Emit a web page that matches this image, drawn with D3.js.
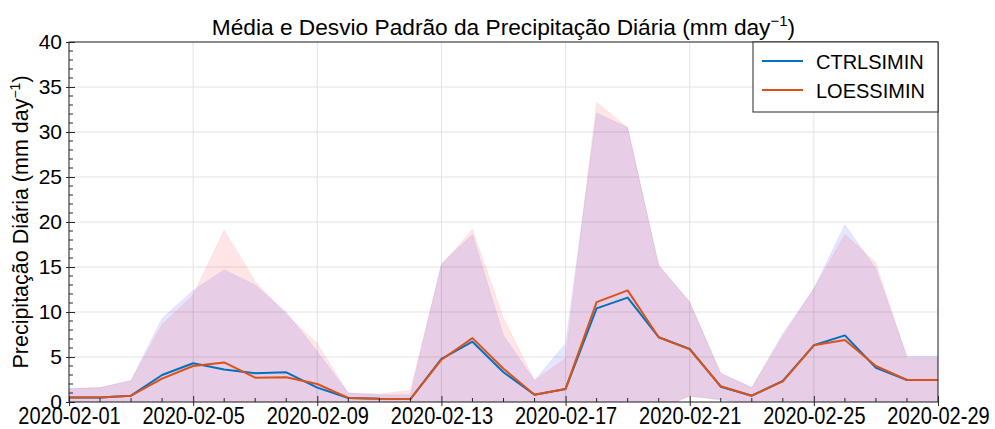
<!DOCTYPE html>
<html><head><meta charset="utf-8">
<script src="https://cdn.jsdelivr.net/npm/d3@7"></script>
<style>
body{margin:0;background:#fff;}
text{font-family:"Liberation Sans",Arial,Helvetica,sans-serif;fill:#000;}
</style></head>
<body><svg id="c" width="995" height="429"></svg>
<script>
const dates = ["2020-02-01","2020-02-02","2020-02-03","2020-02-04","2020-02-05","2020-02-06","2020-02-07","2020-02-08","2020-02-09","2020-02-10","2020-02-11","2020-02-12","2020-02-13","2020-02-14","2020-02-15","2020-02-16","2020-02-17","2020-02-18","2020-02-19","2020-02-20","2020-02-21","2020-02-22","2020-02-23","2020-02-24","2020-02-25","2020-02-26","2020-02-27","2020-02-28","2020-02-29"];
const ctrlMean = [0.5,0.5,0.7,3.0,4.3,3.6,3.2,3.3,1.6,0.45,0.35,0.33,4.8,6.7,3.3,0.8,1.45,10.4,11.6,7.2,5.9,1.7,0.7,2.35,6.3,7.4,3.8,2.45,2.45];
const ctrlStd  = [1.0,1.1,1.7,6.3,8.1,11.1,9.8,6.7,4.0,0.55,0.45,0.47,10.6,11.9,4.1,1.6,5.05,21.7,18.9,8.0,5.2,1.5,0.9,5.25,6.3,12.3,11.0,2.65,2.65];
const loessMean = [0.5,0.5,0.7,2.6,4.0,4.4,2.7,2.75,2.0,0.45,0.35,0.33,4.7,7.1,3.7,0.8,1.45,11.1,12.4,7.2,5.85,1.75,0.7,2.3,6.3,6.9,4.0,2.45,2.45];
const loessStd  = [1.0,1.1,1.7,6.0,7.9,14.7,10.7,6.95,4.5,0.55,0.55,0.97,10.5,12.1,5.6,1.6,3.4,22.2,18.1,8.0,5.25,1.45,0.9,5.0,6.3,11.7,11.5,2.4,2.4];
const seriesNames = ["CTRLSIMIN","LOESSIMIN"];
const lineColors = ["#0072BD","#D95319"];
const bandColors = ["#0000ff","#ff0000"];
const yTicks = [0,5,10,15,20,25,30,35,40];
const xTickLabels = ["2020-02-01","2020-02-05","2020-02-09","2020-02-13","2020-02-17","2020-02-21","2020-02-25","2020-02-29"];

const parse = d3.utcParse("%Y-%m-%d");
const fmt = d3.utcFormat("%Y-%m-%d");
const svg = d3.select("#c");
const L=69,R=938,T=42,B=402;
const x = d3.scaleUtc().domain([parse(dates[0]), parse(dates[dates.length-1])]).range([L,R]);
const y = d3.scaleLinear().domain([0,40]).range([B,T]);

svg.append("defs").append("clipPath").attr("id","clip").append("rect")
  .attr("x",L).attr("y",T).attr("width",R-L).attr("height",B-T);

// grid
const g = svg.append("g");
g.selectAll(".gy").data(yTicks).join("line").attr("x1",L).attr("x2",R)
  .attr("y1",d=>y(d)).attr("y2",d=>y(d)).attr("stroke","#e3e3e3").attr("stroke-width",1);
g.selectAll(".gx").data(xTickLabels).join("line").attr("y1",T).attr("y2",B)
  .attr("x1",d=>x(parse(d))).attr("x2",d=>x(parse(d))).attr("stroke","#e3e3e3").attr("stroke-width",1);

const data = [
  dates.map((d,i)=>({t:parse(d),m:ctrlMean[i],s:ctrlStd[i]})),
  dates.map((d,i)=>({t:parse(d),m:loessMean[i],s:loessStd[i]}))
];
const plot = svg.append("g").attr("clip-path","url(#clip)");
const area = d3.area().x(d=>x(d.t)).y0(d=>y(d.m-d.s)).y1(d=>y(d.m+d.s));
data.forEach((ser,k)=>{
  plot.append("path").datum(ser).attr("d",area)
    .attr("fill",bandColors[k]).attr("fill-opacity",0.1)
    .attr("stroke",bandColors[k]).attr("stroke-opacity",0.06).attr("stroke-width",1);
});
const line = d3.line().x(d=>x(d.t)).y(d=>y(d.m));
data.forEach((ser,k)=>{
  plot.append("path").datum(ser).attr("d",line).attr("fill","none")
    .attr("stroke",lineColors[k]).attr("stroke-width",2).attr("stroke-linejoin","round");
});

// axes box
svg.append("rect").attr("x",L).attr("y",T).attr("width",R-L).attr("height",B-T)
  .attr("fill","none").attr("stroke","#262626").attr("stroke-width",1);

// y axis
const ya = d3.axisLeft(y).tickValues(yTicks).tickSizeInner(-6).tickSizeOuter(0).tickPadding(7);
const yg = svg.append("g").attr("transform",`translate(${L},0)`).call(ya);
yg.select(".domain").remove();
yg.selectAll(".tick line").attr("stroke","#262626").attr("x1",-3);
yg.selectAll(".tick text").attr("font-size",21).attr("fill","#000").style("font-family","Liberation Sans, Arial, sans-serif");
const yMinor = d3.range(0,41,1).filter(v=>v%5!==0);
svg.append("g").selectAll("line").data(yMinor).join("line")
  .attr("x1",L).attr("x2",L+4).attr("y1",d=>y(d)).attr("y2",d=>y(d)).attr("stroke","#262626");

// x axis
const xa = d3.axisBottom(x).tickValues(xTickLabels.map(parse)).tickFormat(fmt).tickSizeInner(-6).tickSizeOuter(0);
const xg = svg.append("g").attr("transform",`translate(0,${B})`).call(xa);
xg.select(".domain").remove();
xg.selectAll(".tick line").attr("stroke","#262626").attr("y1",4);
xg.selectAll(".tick text").attr("font-size",20).attr("fill","#000")
  .attr("y",22/1.15).attr("dy",0).attr("transform","scale(1,1.15)")
  .style("font-family","Liberation Sans, Arial, sans-serif");
svg.append("g").selectAll("line").data(dates.filter(d=>!xTickLabels.includes(d)).map(parse)).join("line")
  .attr("x1",d=>x(d)).attr("x2",d=>x(d)).attr("y1",B).attr("y2",B-4).attr("stroke","#262626");

// title
const title = svg.append("text").attr("x",(L+R)/2).attr("y",35).attr("text-anchor","middle").attr("font-size",22.7);
title.append("tspan").text("Média e Desvio Padrão da Precipitação Diária (mm day");
title.append("tspan").text("−1").attr("font-size",15).attr("dy",-9);
title.append("tspan").text(")").attr("dy",9);

// y label
const yl = svg.append("text").attr("transform",`translate(28,${(T+B)/2}) rotate(-90)`).attr("text-anchor","middle").attr("font-size",21.5);
yl.append("tspan").text("Precipitação Diária (mm day");
yl.append("tspan").text("−1").attr("font-size",14).attr("dy",-8);
yl.append("tspan").text(")").attr("dy",8);

// legend
const lg = svg.append("g");
lg.append("rect").attr("x",753).attr("y",T).attr("width",R-753).attr("height",70)
  .attr("fill","#fff").attr("stroke","#262626").attr("stroke-width",1);
seriesNames.forEach((n,i)=>{
  const yy = 61 + i*29;
  lg.append("line").attr("x1",762).attr("x2",803).attr("y1",yy).attr("y2",yy)
    .attr("stroke",lineColors[i]).attr("stroke-width",2);
  lg.append("text").attr("x",816).attr("y",yy+7.5).attr("font-size",20).text(n);
});
</script></body></html>
